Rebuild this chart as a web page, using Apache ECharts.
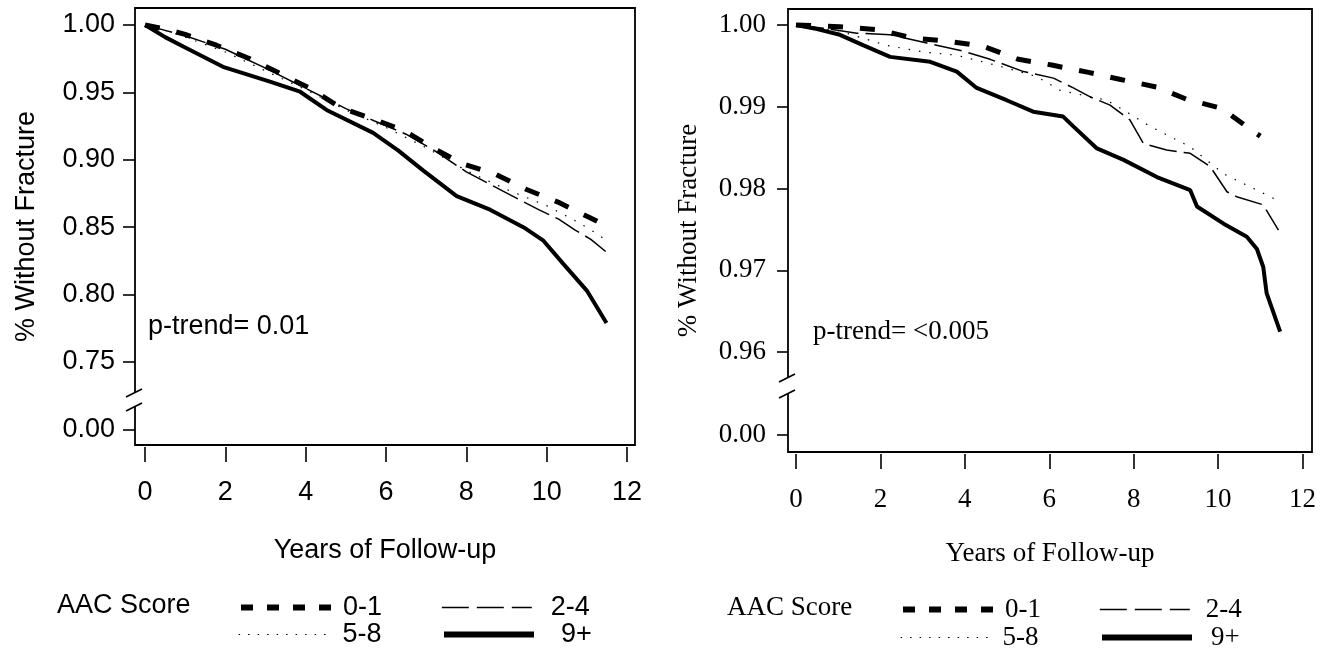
<!DOCTYPE html>
<html><head><meta charset="utf-8">
<script src="https://cdn.jsdelivr.net/npm/echarts@6/dist/echarts.min.js"></script>
<style>html,body{margin:0;padding:0;background:#fff}#c{width:1331px;height:656px}</style>
</head><body><div id="c"></div>
<script>
// ---------- data ----------
const groupNames = ['0-1', '2-4', '5-8', '9+'];
const xTickValues = [0, 2, 4, 6, 8, 10, 12];
const leftYTickValues = [0.75, 0.80, 0.85, 0.90, 0.95, 1.00];
const rightYTickValues = [0.96, 0.97, 0.98, 0.99, 1.00];
const brokenAxisTick = [0];
const xTitle = 'Years of Follow-up';
const yTitle = '% Without Fracture';
const legendTitle = 'AAC Score';
const leftPText = 'p-trend= 0.01';
const rightPText = 'p-trend= <0.005';

// left panel: [years, survival]
const left01 = [[0,1.000],[0.5,0.997],[1.0,0.993],[1.78,0.985],[2.61,0.975],[3.36,0.964],[4.11,0.953],[4.85,0.939],[5.60,0.931],[6.43,0.922],[7.18,0.9085],[7.92,0.897],[8.75,0.889],[9.50,0.878],[10.33,0.868],[11.08,0.857],[11.35,0.853]];
const left24 = [[0,1.000],[0.5,0.996],[1.0,0.992],[2.0,0.982],[3.0,0.968],[4.0,0.953],[5.0,0.938],[5.7,0.929],[6.5,0.919],[7.2,0.907],[8.0,0.891],[8.9,0.877],[9.8,0.863],[10.3,0.856],[10.7,0.848],[11.1,0.841],[11.47,0.832]];
const left58 = [[0,1.000],[0.5,0.996],[1.0,0.991],[2.0,0.980],[3.0,0.966],[4.0,0.952],[5.0,0.937],[6.0,0.924],[7.0,0.909],[8.0,0.892],[9.0,0.878],[10.0,0.866],[10.7,0.855],[11.1,0.848],[11.5,0.840]];
const left9p = [[0,1.000],[0.5,0.991],[0.95,0.984],[1.94,0.969],[3.11,0.958],[3.86,0.9505],[4.52,0.937],[5.68,0.920],[6.3,0.907],[6.93,0.892],[7.76,0.873],[8.59,0.863],[9.42,0.850],[9.92,0.840],[10.41,0.823],[11.0,0.803],[11.49,0.779]];

// right panel: [years, survival]
const right01 = [[0,1.0000],[1.04,0.9998],[1.95,0.9994],[2.78,0.9984],[3.61,0.9980],[4.44,0.9974],[5.27,0.9958],[6.06,0.9951],[6.93,0.9942],[7.72,0.9933],[8.55,0.9924],[9.26,0.9909],[10.09,0.9898],[10.80,0.9871],[11.0,0.9864]];
const right24 = [[0,1.0000],[0.65,0.9996],[1.44,0.9990],[2.23,0.9988],[3.10,0.9978],[3.96,0.9968],[4.60,0.9958],[5.39,0.9943],[6.10,0.9935],[6.57,0.9923],[6.97,0.9912],[7.44,0.9902],[7.91,0.9884],[8.23,0.9855],[8.78,0.9847],[9.34,0.9843],[9.81,0.9827],[10.21,0.9796],[10.44,0.9790],[11.07,0.9780],[11.43,0.9749]];
const right58 = [[0,1.0000],[1.0,0.9993],[2.15,0.9975],[3.02,0.9967],[3.81,0.9963],[4.8,0.9950],[5.70,0.9937],[6.26,0.9920],[7.36,0.9908],[7.76,0.9896],[8.39,0.9876],[9.34,0.9851],[10.13,0.9818],[11.39,0.9786]];
const right9p = [[0,1.0000],[0.5,0.9995],[1.04,0.9988],[1.6,0.9975],[2.23,0.9961],[3.18,0.9955],[3.81,0.9943],[4.28,0.9923],[4.99,0.9908],[5.62,0.9894],[6.33,0.9888],[6.57,0.9876],[7.13,0.9849],[7.76,0.9835],[8.55,0.9814],[9.34,0.9798],[9.50,0.9778],[10.13,0.9757],[10.68,0.9741],[10.92,0.9726],[11.07,0.9704],[11.15,0.9672],[11.47,0.9625]];

// ---------- styles ----------
const SANS = 'Liberation Sans, Arial, sans-serif';
const SERIF = 'Liberation Serif, Times New Roman, serif';
const lineStyles = {
  '0-1': {width: 5, type: [15, 17], cap: 'butt'},
  '2-4': {width: 1.5, type: [28, 7]},
  '5-8': {width: 1.2, type: [1.5, 9]},
  '9+':  {width: 4, type: 'solid'}
};
const legendLineStyles = {
  '0-1': {width: 6, type: [12, 14]},
  '2-4': {width: 1.6, type: [27, 8]},
  '5-8': {width: 1.2, type: [1.5, 8]},
  '9+':  {width: 6, type: 'solid'}
};

function panel(p) {
  const g0 = p.idx * 3;
  const grids = [
    {left: p.left, width: p.width, top: p.top, height: p.splitY - p.top},
    {left: p.left, width: p.width, top: p.splitY, height: p.bottom - p.splitY},
    {left: p.left, width: p.width, top: p.frameTop, height: p.bottom - p.frameTop, show: true, borderColor: '#000', borderWidth: 1.8, backgroundColor: 'transparent'}
  ];
  const txt = {color: '#000', fontFamily: p.font, fontSize: p.size};
  const tickLine = {color: '#000', width: 1.6};
  const xAxes = [
    {gridIndex: g0, type: 'value', min: p.xMin, max: p.xMax, show: false, axisLine: {onZero: false}},
    {gridIndex: g0 + 1, type: 'value', min: p.xMin, max: p.xMax, position: 'bottom', offset: 2,
      axisLine: {show: false, onZero: false}, splitLine: {show: false},
      axisTick: {show: true, length: 15, customValues: xTickValues, lineStyle: tickLine},
      axisLabel: {show: true, margin: p.xLabelMargin, customValues: xTickValues, ...txt},
      name: xTitle, nameLocation: 'middle', nameGap: p.xNameGap, nameTextStyle: txt},
    {gridIndex: g0 + 2, type: 'value', min: p.xMin, max: p.xMax, show: false, axisLine: {onZero: false}}
  ];
  const yAxes = [
    {gridIndex: g0, type: 'value', min: p.yMin, max: p.yMax, position: 'left',
      axisLine: {show: false, onZero: false}, splitLine: {show: false},
      axisTick: {show: true, length: p.tickLen, customValues: p.yTicks, lineStyle: tickLine},
      axisLabel: {show: true, margin: p.yLabelMargin, customValues: p.yTicks, formatter: v => v.toFixed(2), ...txt}},
    {gridIndex: g0 + 1, type: 'value', min: p.lowMin, max: p.lowMax, position: 'left',
      axisLine: {show: false, onZero: false}, splitLine: {show: false},
      axisTick: {show: true, length: p.tickLen, customValues: brokenAxisTick, lineStyle: tickLine},
      axisLabel: {show: true, margin: p.yLabelMargin, customValues: brokenAxisTick, formatter: v => v.toFixed(2), ...txt}},
    {gridIndex: g0 + 2, type: 'value', min: 0, max: 1, position: 'left',
      axisLine: {show: false, onZero: false}, axisTick: {show: false}, axisLabel: {show: false}, splitLine: {show: false},
      name: yTitle, nameLocation: 'middle', nameGap: p.yNameGap, nameRotate: 90, nameTextStyle: txt}
  ];
  const series = groupNames.map((n, i) => ({
    type: 'line', name: n, xAxisIndex: g0, yAxisIndex: g0, data: p.data[i],
    symbol: 'none', showSymbol: false, silent: true, clip: true, z: 3,
    itemStyle: {color: '#000'},
    lineStyle: {color: '#000', ...lineStyles[n]}
  }));
  return {grids, xAxes, yAxes, series};
}

const L = panel({idx: 0, left: 135, width: 500, top: 8.15, frameTop: 8, splitY: 402.45, bottom: 445,
  xMin: -0.25, xMax: 12.2, yMin: 0.72, yMax: 1.0125, lowMin: -0.015, lowMax: 0.02755,
  font: SANS, size: 27, yTicks: leftYTickValues, data: [left01, left24, left58, left9p],
  yNameGap: 95, xNameGap: 90, tickLen: 12, yLabelMargin: 20, xLabelMargin: 32});
const R = panel({idx: 1, left: 788, width: 524, top: 8.65, frameTop: 9, splitY: 386.35, bottom: 452,
  xMin: -0.19, xMax: 12.225, yMin: 0.9558, yMax: 1.002, lowMin: -0.017, lowMax: 0.04865,
  font: SERIF, size: 27, yTicks: rightYTickValues, data: [right01, right24, right58, right9p],
  yNameGap: 86, xNameGap: 86, tickLen: 11, yLabelMargin: 22, xLabelMargin: 32});

function legendItem(name, left, top, font, size, padLeft) {
  return {
    left: left, top: top, orient: 'horizontal', itemWidth: 90, itemHeight: 14, padding: 0,
    selectedMode: false,
    textStyle: {color: '#000', fontFamily: font, fontSize: size, lineHeight: 22, padding: [0, 0, 0, padLeft]},
    data: [{name: name,
      itemStyle: {color: 'rgba(0,0,0,0)', borderColor: 'rgba(0,0,0,0)', borderWidth: 0, opacity: 0},
      lineStyle: {color: '#000', opacity: 1, ...legendLineStyles[name]}}]
  };
}

function breakMarks(x, y1, y2) {
  return [
    {type: 'rect', z: 100, shape: {x: x - 4, y: y1, width: 8, height: y2 - y1}, style: {fill: '#fff'}},
    {type: 'line', z: 101, shape: {x1: x - 9, y1: y1 + 4, x2: x + 7, y2: y1 - 4}, style: {stroke: '#000', lineWidth: 1.6}},
    {type: 'line', z: 101, shape: {x1: x - 9, y1: y2 + 4, x2: x + 7, y2: y2 - 4}, style: {stroke: '#000', lineWidth: 1.6}}
  ];
}

const chart = echarts.init(document.getElementById('c'), null, {renderer: 'canvas'});
chart.setOption({
  animation: false,
  backgroundColor: '#fff',
  grid: [...L.grids, ...R.grids],
  xAxis: [...L.xAxes, ...R.xAxes],
  yAxis: [...L.yAxes, ...R.yAxes],
  series: [...L.series, ...R.series],
  title: [
    {text: leftPText, left: 148, top: 313, padding: 0, textStyle: {color: '#000', fontFamily: SANS, fontSize: 27, fontWeight: 'normal'}},
    {text: rightPText, left: 813, top: 318, padding: 0, textStyle: {color: '#000', fontFamily: SERIF, fontSize: 27, fontWeight: 'normal'}},
    {text: legendTitle, left: 57, top: 592, padding: 0, textStyle: {color: '#000', fontFamily: SANS, fontSize: 27, fontWeight: 'normal'}},
    {text: legendTitle, left: 727, top: 594, padding: 0, textStyle: {color: '#000', fontFamily: SERIF, fontSize: 27, fontWeight: 'normal'}}
  ],
  legend: [
    legendItem('0-1', 238, 594, SANS, 27, 7),
    legendItem('5-8', 238, 621, SANS, 27, 9),
    legendItem('2-4', 441, 594, SANS, 27, 14),
    legendItem('9+', 441, 621, SANS, 27, 22),
    legendItem('0-1', 900, 596, SERIF, 27, 7),
    legendItem('5-8', 900, 624, SERIF, 27, 7),
    legendItem('2-4', 1099, 596, SERIF, 27, 11),
    legendItem('9+', 1099, 624, SERIF, 27, 14)
  ],
  graphic: [...breakMarks(135, 393, 407), ...breakMarks(788, 378, 394)]
});
</script>
</body></html>
